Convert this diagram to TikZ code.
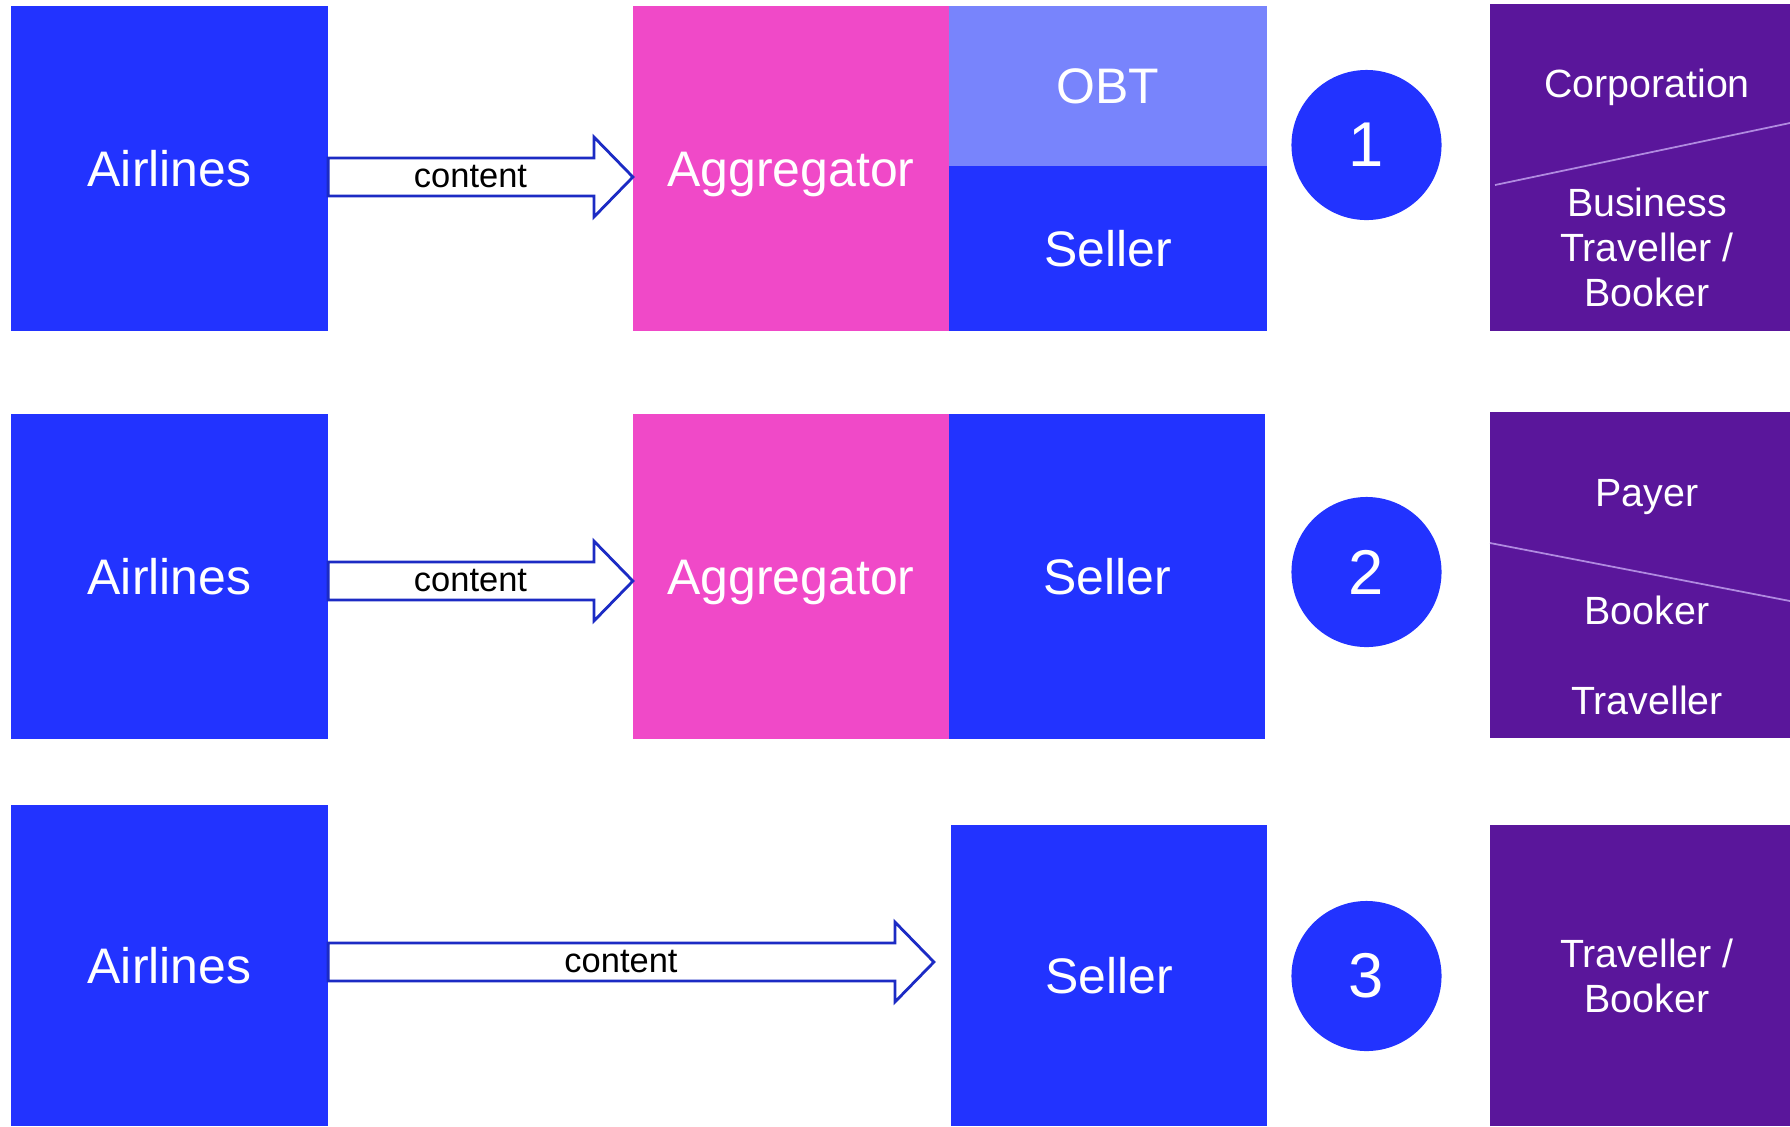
\documentclass[tikz,border=0pt]{standalone}
\usepackage{fontspec}
\setmainfont{Liberation Sans}
\usepackage{tikz}
\usetikzlibrary{calc}
\definecolor{airblue}{HTML}{2233FF}
\definecolor{aggpink}{HTML}{F049C8}
\definecolor{obtblue}{HTML}{7884FC}
\definecolor{custpurple}{HTML}{5A169B}
\definecolor{arrowblue}{HTML}{1C2BC4}
\definecolor{splitline}{HTML}{B08AE0}
\tikzset{
  box/.style={rectangle, inner sep=0pt, outer sep=0pt, text=white, align=center,
    font=\fontsize{14.2}{17}\selectfont, text height=10.2pt, text depth=0pt},
  cust/.style={rectangle, inner sep=0pt, outer sep=0pt, text=white, align=center,
    fill=custpurple, minimum width=3.14cm, font=\fontsize{11.2}{12.8}\selectfont},
  custone/.style={cust, text height=8pt, text depth=0pt},
  numdot/.style={circle, fill=airblue, minimum size=1.5cm, inner sep=0pt, text=white,
    font=\fontsize{18}{20}\selectfont},
  contentarrow/.style={draw=arrowblue, line width=0.8pt, fill=white},
  contentlabel/.style={font=\fontsize{9.8}{12}\selectfont, inner sep=0pt},
}
% hollow block arrow from #1 (tail centre) to #2 (tip)
\newcommand{\fatarrow}[2]{%
  \draw[contentarrow] ($(#1)+(0,-19)$) -- ($(#2)+(-39,-19)$) -- ($(#2)+(-39,-40)$)
    -- (#2) -- ($(#2)+(-39,40)$) -- ($(#2)+(-39,19)$) -- ($(#1)+(0,19)$) -- cycle;}

\begin{document}
\begin{tikzpicture}[x=0.01cm, y=-0.01cm]
    \useasboundingbox (0,0) rectangle (1790,1126);
    % airlines on every row
    \foreach \n/\y/\h in {1/168.5/3.25, 2/576.5/3.25, 3/965.5/3.21} {
        \node[box, fill=airblue, minimum width=3.17cm, minimum height=\h cm] (air\n) at (169.5,\y) {Airlines};
    }
    % row 1: aggregator, OBT over seller
    \node[box, fill=aggpink, minimum width=3.16cm, minimum height=3.25cm] (agg1) at (791,168.5) {Aggregator};
    \node[box, fill=obtblue, minimum width=3.18cm, minimum height=1.6cm] (obt1) at (1108,86) {OBT};
    \node[box, fill=airblue, minimum width=3.18cm, minimum height=1.65cm] (sel1) at (1108,248.5) {Seller};
    % row 2: aggregator, seller
    \node[box, fill=aggpink, minimum width=3.16cm, minimum height=3.25cm] (agg2) at (791,576.5) {Aggregator};
    \node[box, fill=airblue, minimum width=3.16cm, minimum height=3.25cm] (sel2) at (1107,576.5) {Seller};
    % row 3: seller only
    \node[box, fill=airblue, minimum width=3.16cm, minimum height=3.01cm] (sel3) at (1109,975.5) {Seller};
    % numbered cases
    \foreach \n/\y in {1/145, 2/572, 3/976} {
        \node[numdot] (num\n) at (1366.5,\y) {\n};
    }
    % customer side
    \node[custone, minimum height=1.59cm] (corp1) at (1647,83.5) {Corporation};
    \node[cust, minimum height=1.68cm] (book1) at (1647,247) {Business\\Traveller /\\Booker};
    \node[custone, minimum height=1.61cm] (pay2) at (1647,492.5) {Payer};
    \node[cust, minimum height=1.65cm] (trav2) at (1647,655.5) {Booker\\[12.8pt]Traveller};
    \node[cust, minimum height=3.01cm] (trav3) at (1647,975.5) {Traveller /\\Booker};
    \draw[splitline, line width=0.5pt] (1495,185) -- (1790,123);
    \draw[splitline, line width=0.5pt] (1490,543) -- (1790,601);
    % content arrows
    \coordinate (s1) at ($(air1.east)+(0,8.5)$);
    \coordinate (t1) at (s1 -| agg1.west);
    \coordinate (s2) at ($(air2.east)+(0,4.5)$);
    \coordinate (t2) at (s2 -| agg2.west);
    \coordinate (s3) at ($(air3.east)+(0,-3.5)$);
    \coordinate (t3) at ($(s3 -| sel3.west)+(-17,0)$);
    \fatarrow{s1}{t1}
    \fatarrow{s2}{t2}
    \fatarrow{s3}{t3}
    \node[contentlabel] (lab1) at ($(s1)!0.5!(t1)+(-10,0)$) {content};
    \node[contentlabel] (lab2) at ($(s2)!0.5!(t2)+(-10,0)$) {content};
    \node[contentlabel] (lab3) at ($(s3)!0.5!(t3)+(-10,0)$) {content};
\end{tikzpicture}
\end{document}
